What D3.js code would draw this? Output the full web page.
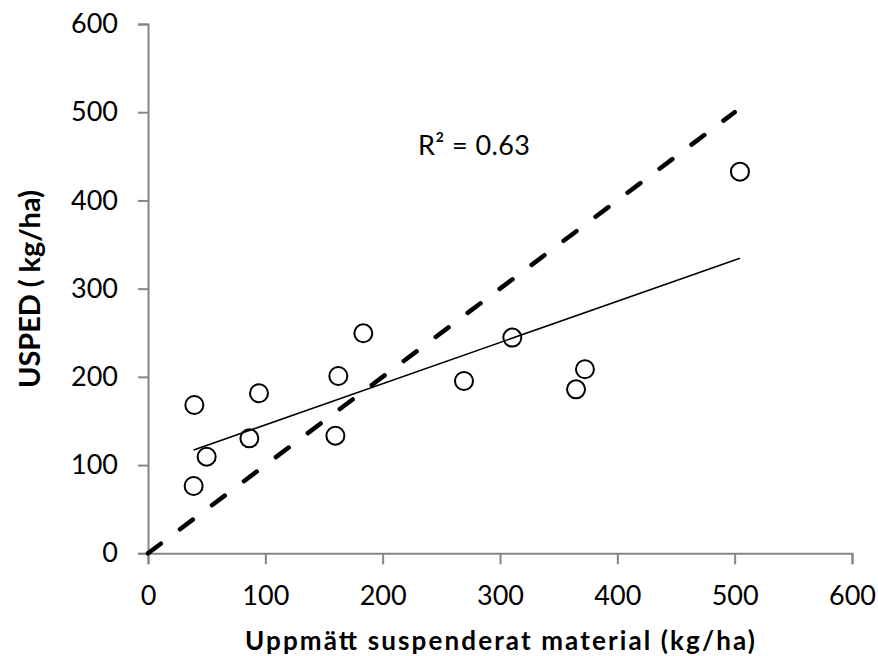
<!DOCTYPE html>
<html>
<head>
<meta charset="utf-8">
<script src="https://cdn.jsdelivr.net/npm/d3@7/dist/d3.min.js"></script>
<style>
  html, body { margin: 0; padding: 0; background: #fff; }
  svg { display: block; }
  text { font-family: Lato, Calibri, "Open Sans", sans-serif; fill: #000; }
</style>
</head>
<body>
<svg id="chart" width="878" height="656"></svg>
<script>
// ---- data ----
const measured = [39.5, 38.9, 50, 86.4, 94.6, 162.2, 159.7, 183.5, 269.3, 310.5, 364.8, 372.4, 504.5];
const usped    = [168.1, 76.3, 109.5, 130.3, 181.4, 201, 133.3, 249.4, 195.3, 244.5, 185.9, 208.6, 432.6];
const oneToOne = [0, 500];
const xTicks = [0, 100, 200, 300, 400, 500, 600];
const yTicks = [0, 100, 200, 300, 400, 500, 600];
const r2Label = "R² = 0.63";
const xTitle = "Uppmätt suspenderat material (kg/ha)";
const yTitle = "USPED ( kg/ha)";

const svg = d3.select("#chart");
const x = d3.scaleLinear().domain([0, 600]).range([148, 852]);
const y = d3.scaleLinear().domain([0, 600]).range([553.3, 24]);
const axisColor = "#868686";

// x axis
const gx = svg.append("g").attr("transform", `translate(0,${y(0)})`)
  .call(d3.axisBottom(x).tickValues(xTicks).tickSize(11).tickPadding(22).tickFormat(d3.format("d")));
gx.select(".domain").attr("stroke", axisColor).attr("stroke-width", 2);
gx.selectAll(".tick line").attr("stroke", axisColor).attr("stroke-width", 2);
gx.selectAll(".tick text").attr("font-size", 27).attr("font-family", "Lato").attr("fill", "#000");

// y axis
const gy = svg.append("g").attr("transform", `translate(${x(0)},0)`)
  .call(d3.axisLeft(y).tickValues(yTicks).tickSize(10).tickPadding(20).tickFormat(d3.format("d")));
gy.select(".domain").attr("stroke", axisColor).attr("stroke-width", 2);
gy.selectAll(".tick line").attr("stroke", axisColor).attr("stroke-width", 2);
gy.selectAll(".tick text").attr("font-size", 27).attr("font-family", "Lato").attr("fill", "#000");

// regression (least squares, as the trendline)
const n = measured.length;
const mx = d3.mean(measured), my = d3.mean(usped);
let sxy = 0, sxx = 0;
for (let i = 0; i < n; i++) { sxy += (measured[i]-mx)*(usped[i]-my); sxx += (measured[i]-mx)**2; }
const slope = sxy / sxx, icpt = my - slope * mx;
const xr = d3.extent(measured);

const line = d3.line().x(d => x(d[0])).y(d => y(d[1]));

// 1:1 dashed line
svg.append("path")
  .attr("d", line(oneToOne.map(v => [v, v])))
  .attr("fill", "none").attr("stroke", "#000").attr("stroke-width", 4.5)
  .attr("stroke-linecap", "round").attr("stroke-dasharray", "16 24");

// trendline
svg.append("path")
  .attr("d", line(xr.map(v => [v, icpt + slope * v])))
  .attr("fill", "none").attr("stroke", "#000").attr("stroke-width", 1.6);

// points
svg.append("g").selectAll("circle").data(measured).join("circle")
  .attr("cx", d => x(d)).attr("cy", (d, i) => y(usped[i])).attr("r", 9)
  .attr("fill", "none").attr("stroke", "#000").attr("stroke-width", 2);

// R² label
svg.append("text").attr("x", 418).attr("y", 155).attr("font-size", 27)
  .attr("textLength", 112).attr("lengthAdjust", "spacing").text(r2Label);

// axis titles
svg.append("text").attr("x", 500).attr("y", 650).attr("text-anchor", "middle")
  .attr("font-size", 26).attr("font-weight", "bold")
  .attr("textLength", 510).attr("lengthAdjust", "spacing").text(xTitle);
svg.append("text").attr("transform", "translate(39.5,289) rotate(-90)").attr("text-anchor", "middle")
  .attr("font-size", 29).attr("font-weight", "bold")
  .attr("textLength", 198).attr("lengthAdjust", "spacing").text(yTitle);
</script>
</body>
</html>
